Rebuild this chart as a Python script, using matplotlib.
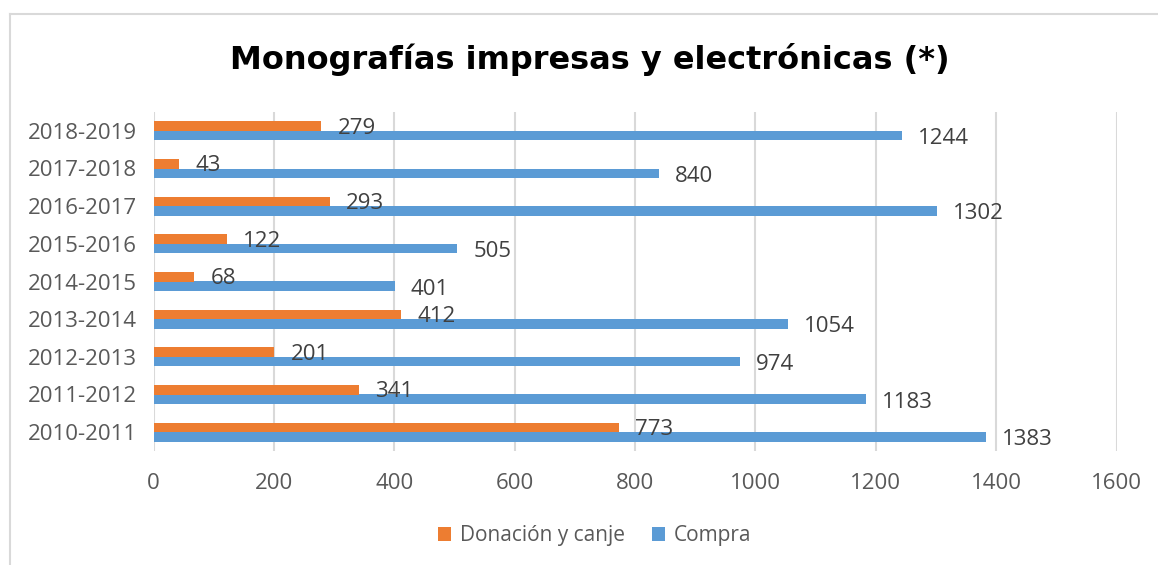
import matplotlib
matplotlib.use("Agg")
import matplotlib.pyplot as plt
from matplotlib.lines import Line2D
from matplotlib.patches import Patch

categories = ["2010-2011", "2011-2012", "2012-2013", "2013-2014", "2014-2015",
              "2015-2016", "2016-2017", "2017-2018", "2018-2019"]
compra = [1383, 1183, 974, 1054, 401, 505, 1302, 840, 1244]
donacion = [773, 341, 201, 412, 68, 122, 293, 43, 279]
xticks = [0, 200, 400, 600, 800, 1000, 1200, 1400, 1600]

W, H = 1158, 565
fig = plt.figure(figsize=(W / 100, H / 100), dpi=100)
ax = fig.add_axes([153.5 / W, 1 - 451 / H, 963 / W, 339 / H])

c_blue = "#5B9BD5"
c_orange = "#ED7D31"
font = "Open Sans"
fs = 16

y = list(range(len(categories)))
bh = 0.25
ax.barh([v - bh / 2 for v in y], compra, height=bh, color=c_blue, zorder=3)
ax.barh([v + bh / 2 for v in y], donacion, height=bh, color=c_orange, zorder=3)

for i in y:
    ax.annotate(str(donacion[i]), (donacion[i], i + bh / 2), xytext=(16, -2),
                textcoords="offset pixels", va="center", ha="left",
                fontsize=fs, color="#404040", family=font, zorder=4)
    ax.annotate(str(compra[i]), (compra[i], i - bh / 2), xytext=(16, -3),
                textcoords="offset pixels", va="center", ha="left",
                fontsize=fs, color="#404040", family=font, zorder=4)

ax.set_xlim(0, 1600)
ax.set_ylim(-0.5, len(categories) - 0.5)
ax.set_xticks(xticks)
ax.set_xticklabels([str(t) for t in xticks], family=font, fontsize=fs, color="#595959")
ax.set_yticks(y)
ax.set_yticklabels(categories, family=font, fontsize=fs, color="#595959")
ax.tick_params(axis="both", length=0)
ax.tick_params(axis="x", pad=16)
ax.tick_params(axis="y", pad=12)
for s in ax.spines.values():
    s.set_visible(False)
ax.grid(axis="x", color="#D9D9D9", linewidth=1.5, zorder=0)
ax.set_axisbelow(True)

fig.text(589.5 / W, 1 - 60 / H, "Monografías impresas y electrónicas (*)",
         ha="center", va="center", fontsize=23, fontweight="bold", color="black",
         family="DejaVu Sans")

handles = [Patch(facecolor=c_orange, label="Donación y canje"),
           Patch(facecolor=c_blue, label="Compra")]
fig.legend(handles=handles, loc="center", bbox_to_anchor=(594.5 / W, 1 - 536 / H),
           ncol=2, frameon=False, prop={"family": font, "size": 15},
           labelcolor="#595959", handlelength=0.65, handleheight=0.65,
           handletextpad=0.4, columnspacing=1.3)

fig.add_artist(Line2D([9.5 / W, 1.0], [1 - 13.5 / H, 1 - 13.5 / H],
                      transform=fig.transFigure, color="#D9D9D9", linewidth=1.5))
fig.add_artist(Line2D([9.5 / W, 9.5 / W], [0, 1 - 13.5 / H],
                      transform=fig.transFigure, color="#D9D9D9", linewidth=1.5))

fig.savefig("out.png", dpi=100, facecolor="white")
